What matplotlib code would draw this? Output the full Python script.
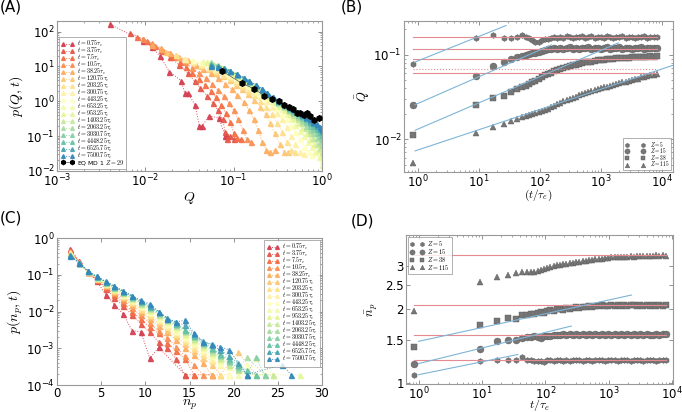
import matplotlib
matplotlib.use('Agg')
import matplotlib.pyplot as plt
import numpy as np
from matplotlib.ticker import FixedLocator, FixedFormatter, NullLocator, NullFormatter

plt.rcParams['mathtext.fontset'] = 'cm'
plt.rcParams['font.family'] = ['DejaVu Sans']

# ---------------- data ----------------
times = [0.75, 3.75, 7.5, 10.5, 38.25, 120.75, 203.25, 300.75, 443.25, 653.25,
         953.25, 1403.25, 2063.25, 3030.75, 4448.25, 6525.75, 7500.75]

# (A) p(Q,t)
qa0 = [0.004, 0.0093, 0.0118, 0.0146, 0.0187, 0.0253, 0.028, 0.0303, 0.0365, 0.041, 0.044, 0.052, 0.068, 0.08, 0.083]
pa0 = [160, 54, 37, 20, 7.1, 3.9, 1.7, 1.7, 0.79, 0.19, 0.19, 0.38, 0.33, 0.1, 0.1]
qa1 = [0.0067, 0.0093, 0.012, 0.015, 0.019, 0.024, 0.03, 0.036, 0.042, 0.05, 0.058, 0.066, 0.075, 0.08, 0.085, 0.092, 0.1]
pa1 = [90, 62, 44, 30, 19, 11, 6.5, 3.8, 2.4, 1.4, 0.9, 0.55, 0.3, 0.13, 0.08, 0.1, 0.08]
qa2 = [0.0081, 0.0105, 0.013, 0.016, 0.02, 0.0245, 0.029, 0.034, 0.04, 0.047, 0.055, 0.063, 0.072, 0.082, 0.092, 0.1, 0.11, 0.12]
pa2 = [71, 52, 38, 27, 19, 13, 9.5, 6.5, 4.3, 3.0, 2.0, 1.3, 0.8, 0.45, 0.25, 0.12, 0.09, 0.08]
qa3 = [0.0093, 0.012, 0.015, 0.019, 0.023, 0.028, 0.034, 0.04, 0.048, 0.057, 0.066, 0.077, 0.088, 0.1, 0.113, 0.127, 0.14, 0.155]
pa3 = [62, 46, 34, 25, 18, 13, 9, 6.5, 4.5, 3.1, 2.1, 1.4, 0.9, 0.55, 0.3, 0.15, 0.08, 0.07]
qa4 = [0.0118, 0.015, 0.019, 0.024, 0.03, 0.037, 0.045, 0.055, 0.066, 0.08, 0.095, 0.11, 0.13, 0.15, 0.17, 0.19, 0.21, 0.235, 0.26, 0.29]
pa4 = [42, 32, 24, 19, 15, 11, 8.5, 6.3, 4.6, 3.2, 2.2, 1.5, 0.95, 0.55, 0.3, 0.15, 0.07, 0.04, 0.035, 0.04]
qa5 = [0.017, 0.022, 0.028, 0.035, 0.043, 0.052, 0.063, 0.075, 0.09, 0.105, 0.125, 0.145, 0.17, 0.2, 0.23, 0.26, 0.29, 0.33, 0.37, 0.41]
pa5 = [26, 21, 16.5, 13, 10.5, 8.5, 6.6, 5.2, 4.0, 3.0, 2.2, 1.6, 1.1, 0.7, 0.42, 0.24, 0.12, 0.06, 0.036, 0.036]
qa6 = [0.022, 0.028, 0.035, 0.043, 0.052, 0.063, 0.075, 0.09, 0.105, 0.125, 0.145, 0.17, 0.2, 0.23, 0.27, 0.31, 0.35, 0.4, 0.45, 0.5]
pa6 = [21, 16.5, 13.5, 11, 9, 7.2, 5.8, 4.5, 3.5, 2.7, 2.0, 1.5, 1.05, 0.7, 0.42, 0.24, 0.13, 0.07, 0.04, 0.036]
qa7 = [0.028, 0.035, 0.043, 0.052, 0.063, 0.075, 0.09, 0.105, 0.125, 0.145, 0.17, 0.2, 0.23, 0.27, 0.31, 0.35, 0.4, 0.45, 0.5, 0.56, 0.62]
pa7 = [16, 14, 12, 10, 8.3, 6.8, 5.3, 4.2, 3.2, 2.5, 1.9, 1.4, 1.0, 0.7, 0.45, 0.3, 0.18, 0.1, 0.06, 0.036, 0.03]
qa8 = [0.035, 0.043, 0.052, 0.063, 0.075, 0.09, 0.105, 0.125, 0.145, 0.17, 0.2, 0.23, 0.27, 0.31, 0.35, 0.4, 0.45, 0.5, 0.56, 0.62, 0.69, 0.76]
pa8 = [15, 13, 11.5, 9.5, 7.8, 6.2, 4.9, 3.7, 2.9, 2.2, 1.6, 1.2, 0.88, 0.62, 0.44, 0.3, 0.2, 0.13, 0.08, 0.05, 0.035, 0.028]
qa9 = [0.045, 0.055, 0.066, 0.08, 0.095, 0.11, 0.13, 0.15, 0.17, 0.2, 0.23, 0.27, 0.31, 0.35, 0.4, 0.45, 0.5, 0.56, 0.62, 0.69, 0.76, 0.84, 0.92, 1.0]
pa9 = [14, 12, 10, 8.2, 6.5, 5.2, 4.0, 3.1, 2.5, 1.9, 1.4, 1.05, 0.78, 0.58, 0.42, 0.3, 0.21, 0.14, 0.1, 0.07, 0.05, 0.035, 0.025, 0.02]
qa10 = [0.05, 0.06, 0.072, 0.085, 0.1, 0.12, 0.14, 0.16, 0.19, 0.22, 0.25, 0.29, 0.33, 0.38, 0.43, 0.48, 0.54, 0.6, 0.67, 0.74, 0.82, 0.9, 0.97, 1.0]
pa10 = [13, 11.5, 9.5, 7.8, 6.2, 4.7, 3.7, 2.9, 2.2, 1.65, 1.3, 0.98, 0.74, 0.55, 0.42, 0.32, 0.24, 0.17, 0.12, 0.085, 0.06, 0.04, 0.025, 0.015]
q_late = [0.055, 0.066, 0.078, 0.092, 0.11, 0.13, 0.15, 0.18, 0.21, 0.24, 0.28, 0.32, 0.37, 0.42, 0.47, 0.53, 0.59, 0.66, 0.73, 0.8, 0.88, 0.95, 1.0]
pa11 = [13, 11, 9, 7.3, 5.6, 4.4, 3.5, 2.6, 2.0, 1.55, 1.17, 0.9, 0.68, 0.52, 0.4, 0.3, 0.23, 0.17, 0.12, 0.09, 0.06, 0.045, 0.035]
pa12 = [13, 11, 9.2, 7.4, 5.7, 4.5, 3.6, 2.7, 2.05, 1.6, 1.2, 0.93, 0.72, 0.56, 0.45, 0.35, 0.27, 0.2, 0.15, 0.12, 0.09, 0.07, 0.055]
pa13 = [12, 10.5, 9, 7.4, 5.8, 4.6, 3.7, 2.8, 2.1, 1.65, 1.25, 0.97, 0.76, 0.6, 0.5, 0.4, 0.32, 0.25, 0.19, 0.16, 0.12, 0.1, 0.08]
pa14 = [12, 10.5, 9, 7.5, 5.9, 4.7, 3.8, 2.9, 2.2, 1.7, 1.3, 1.02, 0.8, 0.65, 0.55, 0.45, 0.37, 0.3, 0.24, 0.2, 0.16, 0.13, 0.11]
pa15 = [11, 10, 8.8, 7.4, 5.9, 4.7, 3.8, 2.9, 2.2, 1.72, 1.32, 1.05, 0.83, 0.68, 0.58, 0.48, 0.41, 0.34, 0.28, 0.24, 0.2, 0.16, 0.14]
pa16 = [10, 9.5, 8.5, 7.2, 5.9, 4.7, 3.8, 2.9, 2.25, 1.75, 1.35, 1.07, 0.85, 0.7, 0.6, 0.5, 0.43, 0.36, 0.3, 0.26, 0.22, 0.18, 0.16]

q_eq = [0.0733, 0.123, 0.17, 0.222, 0.27, 0.326, 0.373, 0.418, 0.467, 0.52, 0.557, 0.617, 0.67, 0.735, 0.817, 0.915]
p_eq = [7.4, 3.3, 2.27, 1.46, 1.15, 0.99, 0.76, 0.68, 0.6, 0.46, 0.46, 0.41, 0.46, 0.37, 0.295, 0.33]

# (C) p(n_p,t), bins at n_p = 1.5 ... 27.5
n_bins = [1.5, 2.5, 3.5, 4.5, 5.5, 6.5, 7.5, 8.5, 9.5, 10.5, 11.5, 12.5, 13.5, 14.5,
          15.5, 16.5, 17.5, 18.5, 19.5, 20.5, 21.5, 22.5, 23.5, 24.5, 25.5, 26.5, 27.5]
pc = [
    [0.5, 0.23, 0.12, 0.068, 0.029, 0.0155, 0.0085, 0.003, 0.0028, 0.00053, 0.00105, None, None, 0.00019],
    [0.48, 0.22, 0.12, 0.07, 0.042, 0.024, 0.014, 0.0082, 0.0046, 0.0027, 0.0015, 0.001, 0.0005, 0.00019, 0.00019],
    [0.45, 0.22, 0.12, 0.074, 0.046, 0.028, 0.017, 0.01, 0.0062, 0.0037, 0.0026, 0.0014, 0.00085, 0.00052, 0.00019, None, 0.00019],
    [0.44, 0.22, 0.12, 0.076, 0.049, 0.031, 0.02, 0.0125, 0.0078, 0.005, 0.0029, 0.0019, 0.0011, 0.0006, 0.00036, 0.00019, 0.00019],
    [0.42, 0.21, 0.12, 0.078, 0.052, 0.034, 0.023, 0.015, 0.0098, 0.0064, 0.004, 0.0027, 0.0017, 0.001, 0.00065, 0.0004, 0.00019, 0.00019],
    [0.41, 0.21, 0.12, 0.08, 0.054, 0.036, 0.025, 0.017, 0.011, 0.0074, 0.0048, 0.0032, 0.0021, 0.0013, 0.00085, 0.00055, 0.00036, 0.00019, None, 0.00078, None, 0.00019],
    [0.4, 0.21, 0.12, 0.081, 0.056, 0.038, 0.026, 0.018, 0.012, 0.0082, 0.0055, 0.0037, 0.0025, 0.0016, 0.001, 0.00065, 0.00045, 0.00019, 0.00019],
    [0.39, 0.21, 0.125, 0.082, 0.057, 0.04, 0.028, 0.019, 0.013, 0.009, 0.006, 0.0041, 0.0028, 0.0018, 0.0012, 0.0008, 0.0005, 0.00036, 0.00019, None, None, 0.00055, None, 0.00019],
    [0.38, 0.21, 0.125, 0.083, 0.058, 0.041, 0.029, 0.02, 0.014, 0.0097, 0.0066, 0.0045, 0.003, 0.002, 0.0014, 0.0009, 0.0006, 0.0004, 0.00019, None, 0.00036, None, None, 0.00019],
    [0.37, 0.21, 0.125, 0.084, 0.059, 0.042, 0.03, 0.021, 0.015, 0.0105, 0.0072, 0.005, 0.0034, 0.0023, 0.0015, 0.001, 0.00065, 0.00045, 0.0003, 0.00019, None, None, 0.00019],
    [0.36, 0.21, 0.125, 0.085, 0.06, 0.043, 0.031, 0.022, 0.016, 0.011, 0.0078, 0.0054, 0.0037, 0.0025, 0.0017, 0.0011, 0.00075, 0.0005, 0.00036, 0.00025, 0.00019, None, None, 0.00019, None, None, 0.00019],
    [0.36, 0.21, 0.125, 0.086, 0.061, 0.044, 0.032, 0.023, 0.0165, 0.0118, 0.0082, 0.0057, 0.004, 0.0027, 0.0018, 0.0012, 0.0008, 0.00055, 0.00036, 0.00025, None, 0.00019, None, 0.00019],
    [0.35, 0.21, 0.125, 0.087, 0.062, 0.045, 0.033, 0.024, 0.017, 0.0123, 0.0086, 0.006, 0.0042, 0.0029, 0.002, 0.0013, 0.0009, 0.0006, 0.00042, 0.00028, 0.00057, None, 0.00019],
    [0.35, 0.21, 0.125, 0.088, 0.063, 0.046, 0.034, 0.025, 0.018, 0.013, 0.009, 0.0063, 0.0045, 0.0031, 0.0021, 0.0014, 0.00095, 0.00065, 0.00045, 0.0003, 0.00019, 0.00057, 0.00019],
    [0.34, 0.21, 0.125, 0.089, 0.064, 0.047, 0.035, 0.026, 0.0188, 0.0135, 0.0095, 0.0066, 0.0047, 0.0032, 0.0022, 0.0015, 0.001, 0.0007, 0.0005, 0.00035, 0.00025, 0.00019],
    [0.34, 0.21, 0.125, 0.09, 0.065, 0.048, 0.036, 0.027, 0.0195, 0.0145, 0.0098, 0.0067, 0.0051, 0.0042, 0.0024, 0.0016, 0.0012, 0.0009, 0.0006, 0.0004, 0.00019],
    [0.33, 0.21, 0.125, 0.09, 0.066, 0.05, 0.036, 0.027, 0.02, 0.016, 0.01, 0.0063, 0.0052, 0.0058, 0.0026, 0.0015, 0.0013, 0.0011, 0.0009, None, 0.00019, None, None, None, 0.00036, 0.00019],
]

# (B),(D) time series, t/tau_e
t_grid = [0.83, 9.1, 17.4, 25.7, 34, 42.3, 50.6, 58.9, 67.2, 75.5, 84, 95, 107, 120, 135, 152,
          171, 192, 216, 243, 273, 307, 345, 388, 436, 490, 551, 619, 696, 782, 879, 988,
          1110, 1248, 1403, 1577, 1772, 1992, 2239, 2516, 2828, 3179, 3573, 4016, 4514,
          5073, 5702, 6409, 7204, 8097]
Z_labels = ['5', '15', '38', '115']

qb_z5 = [0.078, 0.158, 0.172, 0.158, 0.158, 0.16, 0.172, 0.162, 0.156, 0.15, 0.142, 0.14, 0.148, 0.152,
         0.155, 0.158, 0.16, 0.156, 0.162, 0.158, 0.165, 0.16, 0.157, 0.163, 0.16, 0.166, 0.158, 0.16,
         0.165, 0.158, 0.162, 0.16, 0.157, 0.164, 0.16, 0.158, 0.163, 0.16, 0.165, 0.158, 0.161, 0.163,
         0.158, 0.162, 0.16, 0.164, 0.158, 0.161, 0.163, 0.16]
qb_z15 = [0.0256, 0.0555, 0.073, 0.082, 0.088, 0.093, 0.096, 0.099, 0.102, 0.104, 0.106, 0.109, 0.112,
          0.115, 0.117, 0.116, 0.12, 0.118, 0.121, 0.117, 0.12, 0.122, 0.118, 0.12, 0.117, 0.121, 0.119,
          0.122, 0.118, 0.12, 0.121, 0.117, 0.12, 0.122, 0.118, 0.12, 0.119, 0.122, 0.118, 0.121, 0.12,
          0.117, 0.121, 0.12, 0.122, 0.118, 0.12, 0.121, 0.119, 0.12]
qb_z38 = [0.0111, 0.0257, 0.031, 0.0325, 0.036, 0.039, 0.0415, 0.043, 0.045, 0.047, 0.049, 0.052, 0.054,
          0.057, 0.059, 0.061, 0.064, 0.065, 0.068, 0.07, 0.071, 0.073, 0.075, 0.076, 0.077, 0.08, 0.081,
          0.083, 0.082, 0.084, 0.086, 0.087, 0.086, 0.088, 0.09, 0.089, 0.0905, 0.092, 0.091, 0.0925,
          0.092, 0.094, 0.093, 0.0945, 0.094, 0.095, 0.094, 0.0955, 0.095, 0.096]
qb_z115 = [0.0052, 0.0117, 0.014, 0.0153, 0.0165, 0.0175, 0.0182, 0.019, 0.0195, 0.02, 0.0205, 0.021,
           0.0215, 0.022, 0.023, 0.024, 0.025, 0.026, 0.027, 0.028, 0.029, 0.0302, 0.031, 0.032, 0.033,
           0.034, 0.035, 0.036, 0.037, 0.038, 0.039, 0.04, 0.041, 0.042, 0.043, 0.044, 0.045, 0.046,
           0.047, 0.048, 0.049, 0.05, 0.051, 0.052, 0.054, 0.055, 0.056, 0.057, 0.058, 0.059]
qb_eq = [0.16, 0.118, 0.09, 0.06]
qb_eq_dotted = 0.067
# power-law fits: amplitude, exponent, t_end
fitB = [(0.0842, 0.29, 28), (0.0264, 0.317, 154), (0.01314, 0.311, 1910), (0.00745, 0.24, 15200)]

nd_z5 = [1.08, 1.23, 1.24, 1.24, 1.24, 1.27, 1.24, 1.235, 1.23, 1.225, 1.23, 1.22, 1.235, 1.24, 1.23,
         1.245, 1.235, 1.225, 1.24, 1.23, 1.245, 1.235, 1.24, 1.23, 1.245, 1.235, 1.23, 1.24, 1.235,
         1.245, 1.23, 1.24, 1.235, 1.245, 1.23, 1.24, 1.235, 1.245, 1.23, 1.24, 1.235, 1.245, 1.23,
         1.24, 1.235, 1.24, 1.23, 1.245, 1.235, 1.24]
nd_z15 = [1.19, 1.376, 1.477, 1.49, 1.5, 1.53, 1.54, 1.535, 1.545, 1.54, 1.53, 1.545, 1.55, 1.555, 1.56,
          1.57, 1.565, 1.575, 1.57, 1.58, 1.565, 1.575, 1.57, 1.58, 1.56, 1.575, 1.57, 1.585, 1.565,
          1.575, 1.57, 1.58, 1.56, 1.575, 1.565, 1.58, 1.57, 1.575, 1.56, 1.58, 1.57, 1.575, 1.565,
          1.58, 1.57, 1.56, 1.575, 1.57, 1.58, 1.575]
nd_z38 = [1.397, 1.72, 1.786, 1.83, 1.82, 1.888, 1.89, 1.9, 1.91, 1.93, 1.95, 1.93, 1.96, 1.98, 1.97,
          1.99, 2.0, 1.985, 2.01, 2.0, 2.02, 2.03, 2.01, 2.04, 2.03, 2.05, 2.04, 2.06, 2.05, 2.07, 2.05,
          2.06, 2.08, 2.06, 2.07, 2.05, 2.07, 2.06, 2.08, 2.07, 2.06, 2.07, 2.05, 2.07, 2.06, 2.08, 2.06,
          2.07, 2.06, 2.07]
nd_z115 = [1.96, 2.58, 2.69, 2.74, 2.81, 2.82, 2.83, 2.82, 2.84, 2.86, 2.88, 2.91, 2.94, 2.96, 2.99,
           3.01, 3.03, 3.05, 3.06, 3.07, 3.09, 3.1, 3.12, 3.13, 3.14, 3.15, 3.16, 3.18, 3.19, 3.2, 3.22,
           3.23, 3.24, 3.25, 3.25, 3.26, 3.27, 3.26, 3.28, 3.27, 3.28, 3.29, 3.28, 3.3, 3.29, 3.3, 3.31,
           3.3, 3.31, 3.3]
nd_eq = [1.236, 1.57, 2.07, 3.33]
fitD = [(1.081, 0.0524, 36.7), (1.2, 0.0632, 257), (1.478, 0.0559, 2300)]

# ---------------- style ----------------
cols = plt.cm.Spectral(np.linspace(0.1, 0.9, len(times)))
grey = '#767676'
red_line = '#e58a90'
blue_line = '#7fb4d6'
tick_fs = 8.5


def style(ax):
    for s in ax.spines.values():
        s.set_color('0.6')
        s.set_linewidth(0.8)
    ax.tick_params(which='both', direction='in', top=True, right=True, colors='0.5',
                   labelcolor='k', labelsize=tick_fs, pad=1.5)
    ax.tick_params(which='major', length=3, width=0.6)
    ax.tick_params(which='minor', length=1.5, width=0.5)


def small_legend(ax, fs=4.4, spacing=-0.5, hl=2.0, bp=0.4, pad=0.5, **kw):
    leg = ax.legend(fontsize=fs, numpoints=2, fancybox=False, handlelength=hl,
                    handletextpad=pad, borderpad=bp, labelspacing=spacing, markerscale=0.75,
                    **kw)
    leg.get_frame().set_edgecolor('0.55')
    leg.get_frame().set_linewidth(0.6)
    return leg


fig = plt.figure(figsize=(6.82, 4.12), dpi=100)
axA = fig.add_axes([0.0836, 0.585, 0.3886, 0.364])
axB = fig.add_axes([0.5924, 0.5825, 0.3944, 0.3665])
axC = fig.add_axes([0.0836, 0.0655, 0.3886, 0.3568])
axD = fig.add_axes([0.5953, 0.0680, 0.3915, 0.3616])

# ---- (A)
qa = [qa0, qa1, qa2, qa3, qa4, qa5, qa6, qa7, qa8, qa9, qa10] + [q_late] * 6
pa = [pa0, pa1, pa2, pa3, pa4, pa5, pa6, pa7, pa8, pa9, pa10, pa11, pa12, pa13, pa14, pa15, pa16]
for i, t in enumerate(times):
    axA.plot(qa[i], pa[i], ls=':', lw=0.7, marker='^', ms=3.6, color=cols[i], mec=cols[i],
             alpha=0.9, label=r'$t=%s\tau_c$' % ('{:g}'.format(t)))
axA.plot(q_eq, p_eq, '-', color='0.35', lw=0.5, marker='h', ms=4, mfc='k', mec='k',
         label=r'EQ MD 1 $Z=29$', zorder=5)
axA.set_xscale('log')
axA.set_yscale('log')
axA.set_xlim(1e-3, 1)
axA.set_ylim(1e-2, 200)
axA.set_xlabel(r'$Q$', fontsize=10, labelpad=0)
axA.set_ylabel(r'$p(Q,t)$', fontsize=10, labelpad=1)
style(axA)
small_legend(axA, loc='lower left', borderaxespad=0.3)

# ---- (C)
for i, t in enumerate(times):
    xs = [n for n, p in zip(n_bins, pc[i]) if p is not None]
    ys = [p for p in pc[i] if p is not None]
    axC.plot(xs, ys, ls=':', lw=0.7, marker='^', ms=3.6, color=cols[i], mec=cols[i],
             alpha=0.9, label=r'$t=%s\tau_c$' % ('{:g}'.format(t)))
axC.set_yscale('log')
axC.set_xlim(0, 30)
axC.set_ylim(1e-4, 1)
axC.set_xlabel(r'$n_p$', fontsize=10, labelpad=-2)
axC.set_ylabel(r'$p(n_p,t)$', fontsize=10, labelpad=1)
style(axC)
small_legend(axC, loc='upper right', borderaxespad=0.3)

# ---- (B)
markers = [('h', 4.2), ('o', 5), ('s', 4.5), ('^', 4.5)]
for (m, ms), q, z in zip(markers, [qb_z5, qb_z15, qb_z38, qb_z115], Z_labels):
    axB.plot(t_grid, q, ls='none', marker=m, ms=ms, color=grey, mec='#5a5a5a', mew=0.3,
             label=r'$Z=%s$' % z, zorder=2)
for q in qb_eq:
    axB.plot([t_grid[0], t_grid[-1]], [q, q], color=red_line, lw=0.8, zorder=3)
axB.plot([t_grid[0], t_grid[-1]], [qb_eq_dotted, qb_eq_dotted], color=red_line, lw=0.8, ls=':', zorder=3)
for a, k, tend in fitB:
    tt = np.array([0.91, tend])
    axB.plot(tt, a * tt ** k, color=blue_line, lw=0.8, zorder=3)
axB.set_xscale('log')
axB.set_yscale('log')
axB.set_xlim(0.6, 1.5e4)
axB.set_ylim(0.0041, 0.25)
axB.set_xlabel(r'$(t/\tau_e)$', fontsize=8, labelpad=-2)
axB.set_ylabel(r'$\bar{Q}$', fontsize=9, labelpad=2)
style(axB)
small_legend(axB, fs=3.9, spacing=-0.45, hl=3.6, bp=0.35, pad=1.0, loc='lower right',
             borderaxespad=0.3)

# ---- (D)
for (m, ms), n, z in zip(markers, [nd_z5, nd_z15, nd_z38, nd_z115], Z_labels):
    axD.plot(t_grid, n, ls='none', marker=m, ms=ms, color=grey, mec='#5a5a5a', mew=0.3,
             label=r'$Z=%s$' % z, zorder=2)
for n in nd_eq:
    axD.plot([t_grid[0], t_grid[-1]], [n, n], color=red_line, lw=0.8, zorder=3)
for a, k, tend in fitD:
    tt = np.array([0.98, tend])
    axD.plot(tt, a * tt ** k, color=blue_line, lw=0.8, zorder=3)
axD.set_xscale('log')
axD.set_yscale('log')
axD.set_xlim(0.62, 1.05e4)
axD.set_ylim(0.99, 4.0)
axD.yaxis.set_major_locator(FixedLocator([1, 1.5, 2, 2.5, 3]))
axD.yaxis.set_major_formatter(FixedFormatter(['1', '1.5', '2', '2.5', '3']))
axD.yaxis.set_minor_locator(NullLocator())
axD.yaxis.set_minor_formatter(NullFormatter())
axD.set_xlabel(r'$t/\tau_e$', fontsize=8.5, labelpad=-4)
axD.set_ylabel(r'$\bar{n}_p$', fontsize=9, labelpad=4)
style(axD)
small_legend(axD, fs=4.5, spacing=-0.2, hl=2.2, loc='upper left', borderaxespad=0.3)

# panel letters
fig.text(0.0, 1.0, '(A)', ha='left', va='top', fontsize=11)
fig.text(0.5, 1.0, '(B)', ha='left', va='top', fontsize=11)
fig.text(0.0, 0.488, '(C)', ha='left', va='top', fontsize=11)
fig.text(0.515, 0.483, '(D)', ha='left', va='top', fontsize=11)

fig.savefig('out.png', dpi=100)
